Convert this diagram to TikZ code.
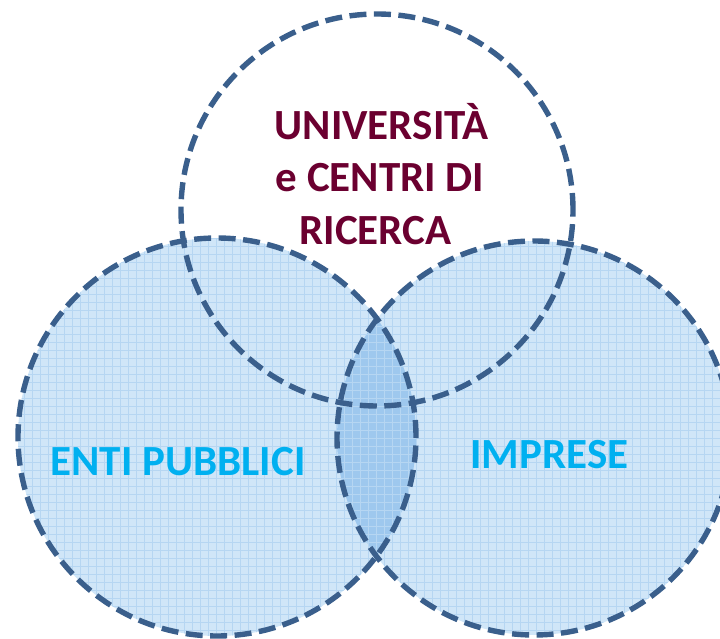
\documentclass[tikz,border=0pt]{standalone}
\usepackage{fontspec}
\setmainfont{Carlito}
\definecolor{ring}{RGB}{58,95,140}
\definecolor{lightfill}{RGB}{208,230,248}
\definecolor{darkfill}{RGB}{158,200,238}
\definecolor{gridcol}{RGB}{182,214,242}
\definecolor{maroon}{RGB}{107,0,48}
\definecolor{cyantext}{RGB}{0,176,240}
\tikzset{
  ringline/.style={draw=ring, line width=5.4pt, dash pattern=on 17pt off 7.5pt},
  gridlines/.style={draw=gridcol, line width=0.6pt},
  toptext/.style={text=maroon, font=\bfseries\fontsize{43}{52}\selectfont, inner sep=0pt},
  bluetext/.style={text=cyantext, font=\bfseries\fontsize{43}{52}\selectfont, inner sep=0pt}
}
\begin{document}
\begin{tikzpicture}[x=1pt,y=1pt]
\useasboundingbox (0,0) rectangle (720,638);
\coordinate (cT) at (377,428);
\coordinate (cL) at (217,201);
\coordinate (cR) at (534,200);
% fills
\fill[lightfill] (cL) circle[radius=199];
\fill[lightfill] (cR) circle[radius=197];
\begin{scope}
  \clip (cL) circle[radius=199];
  \fill[darkfill] (cR) circle[radius=197];
\end{scope}
\begin{scope}
  \clip (cL) circle[radius=199];
  \draw[gridlines, step=8pt] (0,0) grid (720,638);
\end{scope}
\begin{scope}
  \clip (cR) circle[radius=197];
  \draw[gridlines, step=8pt] (0,0) grid (720,638);
\end{scope}
% rings
\draw[ringline] (cL) circle[radius=199];
\draw[ringline] (cR) circle[radius=197];
\draw[ringline] (cT) circle[radius=196];
% texts
\node[toptext, anchor=base] (t1) at (381.5,498) {UNIVERSITÀ};
\node[toptext, anchor=base] (t2) at (380,446) {e CENTRI DI};
\node[toptext, anchor=base] (t3) at (375.5,393) {RICERCA};
\node[bluetext, anchor=base] (enti) at (178,163) {ENTI PUBBLICI};
\node[bluetext, anchor=base] (imp) at (549.5,170) {IMPRESE};
\end{tikzpicture}
\end{document}
